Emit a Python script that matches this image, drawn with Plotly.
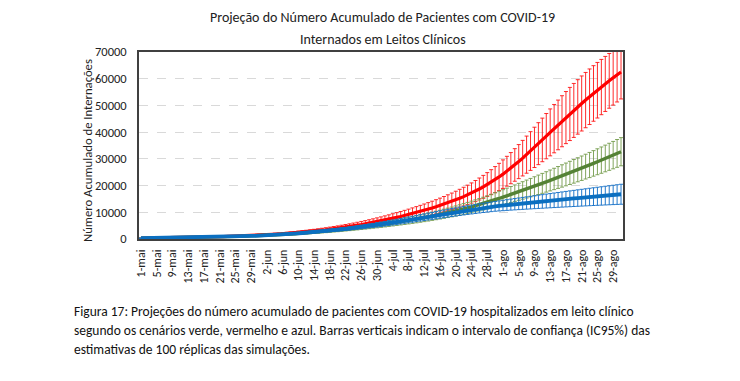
import plotly.graph_objects as go

# ---------------- data ----------------
months = ["mai", "jun", "jul", "ago"]
month_days = [31, 30, 31, 31]
days = [f"{d}-{m}" for m, n in zip(months, month_days) for d in range(1, n + 1)]

tick_labels = ["1-mai", "5-mai", "9-mai", "13-mai", "17-mai", "21-mai", "25-mai", "29-mai",
               "2-jun", "6-jun", "10-jun", "14-jun", "18-jun", "22-jun", "26-jun", "30-jun",
               "4-jul", "8-jul", "12-jul", "16-jul", "20-jul", "24-jul", "28-jul",
               "1-ago", "5-ago", "9-ago", "13-ago", "17-ago", "21-ago", "25-ago", "29-ago"]

red_mean = [300, 315, 330, 350, 370, 390, 410, 430, 455, 480,
            505, 530, 560, 590, 620, 655, 690, 730, 770, 810,
            855, 900, 950, 1000, 1055, 1110, 1170, 1235, 1300, 1370,
            1445, 1520, 1600, 1685, 1775, 1870, 1970, 2075, 2185, 2300,
            2420, 2550, 2685, 2825, 2975, 3130, 3295, 3465, 3645, 3830,
            4025, 4230, 4440, 4660, 4890, 5130, 5380, 5640, 5910, 6190,
            6480, 6780, 7090, 7410, 7740, 8080, 8430, 8790, 9160, 9540,
            9930, 10330, 10740, 11160, 11600, 12060, 12540, 13040, 13560, 14100,
            14660, 15250, 15870, 16520, 17210, 17940, 18710, 19520, 20370, 21270,
            22220, 23220, 24270, 25370, 26520, 27720, 28970, 30260, 31580, 32930,
            34300, 35690, 37090, 38500, 39910, 41310, 42700, 44080, 45450, 46800,
            48130, 49440, 50730, 52000, 53250, 54480, 55690, 56880, 58050, 59200,
            60330, 61440, 62530]
red_err = [66, 69, 73, 77, 81, 86, 90, 95, 100, 106,
           111, 117, 123, 130, 136, 144, 152, 161, 169, 178,
           188, 198, 209, 220, 232, 244, 257, 272, 286, 301,
           318, 334, 352, 371, 391, 411, 433, 457, 481, 506,
           532, 561, 591, 622, 655, 689, 725, 762, 802, 843,
           886, 931, 977, 1025, 1076, 1129, 1184, 1241, 1300, 1362,
           1426, 1492, 1560, 1630, 1703, 1778, 1855, 1934, 2015, 2099,
           2185, 2273, 2363, 2455, 2552, 2653, 2759, 2869, 2983, 3102,
           3225, 3355, 3491, 3634, 3786, 3947, 4116, 4294, 4481, 4679,
           4888, 5108, 5339, 5581, 5834, 6098, 6373, 6657, 6948, 7245,
           7546, 7852, 8160, 8470, 8780, 9050, 9300, 9550, 9750, 9950,
           10100, 10200, 10300, 10350, 10400, 10400, 10400, 10350, 10300, 10250,
           10200, 10150, 10100]

green_mean = [300, 314, 328, 343, 358, 374, 391, 408, 426, 445,
              465, 493, 522, 551, 581, 612, 643, 675, 708, 740,
              770, 810, 850, 890, 932, 976, 1021, 1068, 1115, 1162,
              1210, 1275, 1345, 1418, 1495, 1578, 1665, 1757, 1855, 1955,
              2060, 2165, 2275, 2390, 2510, 2635, 2765, 2900, 3040, 3185,
              3335, 3490, 3650, 3815, 3985, 4160, 4340, 4525, 4715, 4910,
              5110, 5315, 5525, 5740, 5960, 6185, 6415, 6650, 6890, 7135,
              7385, 7650, 7925, 8210, 8505, 8810, 9125, 9450, 9785, 10130,
              10485, 10850, 11225, 11610, 12005, 12410, 12825, 13250, 13720, 14195,
              14675, 15160, 15650, 16145, 16645, 17150, 17660, 18175, 18695, 19220,
              19750, 20285, 20825, 21370, 21920, 22475, 23035, 23600, 24170, 24745,
              25325, 25910, 26500, 27095, 27695, 28300, 28910, 29525, 30145, 30770,
              31400, 32035, 32675]
green_err = [54, 57, 59, 62, 64, 67, 70, 73, 77, 80,
             84, 89, 94, 99, 105, 110, 116, 122, 127, 133,
             139, 146, 153, 160, 168, 176, 184, 192, 201, 209,
             218, 230, 242, 255, 269, 284, 300, 316, 334, 352,
             371, 390, 410, 430, 452, 474, 498, 522, 547, 573,
             600, 628, 657, 687, 717, 749, 781, 815, 849, 884,
             920, 957, 995, 1033, 1073, 1113, 1155, 1197, 1240, 1284,
             1329, 1377, 1427, 1478, 1531, 1586, 1643, 1701, 1761, 1823,
             1887, 1953, 2021, 2090, 2161, 2234, 2309, 2385, 2470, 2555,
             2640, 2730, 2815, 2905, 2995, 3085, 3180, 3270, 3365, 3460,
             3550, 3640, 3730, 3820, 3910, 4000, 4090, 4180, 4260, 4340,
             4420, 4500, 4570, 4640, 4710, 4780, 4850, 4920, 4990, 5060,
             5130, 5200, 5270]

blue_mean = [300, 317, 334, 351, 369, 387, 405, 423, 442, 461,
             480, 510, 540, 570, 600, 632, 664, 697, 730, 765,
             800, 840, 880, 922, 965, 1010, 1057, 1105, 1154, 1205,
             1260, 1325, 1395, 1470, 1550, 1635, 1725, 1820, 1920, 2025,
             2135, 2245, 2360, 2480, 2605, 2735, 2870, 3010, 3155, 3305,
             3460, 3620, 3785, 3955, 4130, 4310, 4495, 4685, 4880, 5080,
             5285, 5505, 5730, 5960, 6195, 6435, 6677, 6921, 7167, 7415,
             7665, 7915, 8163, 8409, 8659, 8909, 9158, 9406, 9652, 9895,
             10135, 10370, 10599, 10821, 11035, 11255, 11465, 11665, 11856, 12039,
             12215, 12385, 12550, 12711, 12869, 13024, 13177, 13328, 13477, 13625,
             13772, 13918, 14063, 14207, 14350, 14492, 14633, 14773, 14912, 15050,
             15187, 15323, 15458, 15592, 15725, 15857, 15988, 16118, 16247, 16375,
             16502, 16628, 16753]
blue_err = [45, 48, 50, 52, 55, 58, 61, 64, 66, 69,
            72, 77, 81, 86, 90, 95, 100, 105, 110, 115,
            120, 126, 132, 138, 145, 152, 159, 166, 173, 181,
            189, 199, 209, 221, 233, 245, 259, 273, 288, 304,
            320, 337, 354, 372, 391, 410, 431, 452, 473, 496,
            519, 543, 568, 593, 620, 647, 674, 703, 732, 762,
            793, 826, 860, 894, 929, 965, 1002, 1038, 1075, 1112,
            1150, 1187, 1224, 1261, 1299, 1336, 1374, 1411, 1448, 1484,
            1520, 1556, 1590, 1623, 1655, 1686, 1715, 1743, 1769, 1795,
            1820, 1880, 1940, 2000, 2060, 2120, 2180, 2240, 2300, 2360,
            2420, 2480, 2540, 2600, 2660, 2720, 2780, 2840, 2900, 2960,
            3020, 3080, 3140, 3200, 3260, 3320, 3380, 3440, 3500, 3560,
            3620, 3680, 3740]

y_ticks = [0, 10000, 20000, 30000, 40000, 50000, 60000, 70000]

title_lines = ["Projeção do Número Acumulado de Pacientes com COVID-19",
               "Internados em Leitos Clínicos"]
y_title = "Número Acumulado de Internações"
caption_lines = [
    "Figura 17: Projeções do número acumulado de pacientes com COVID-19 hospitalizados em leito clínico",
    "segundo os cenários verde, vermelho e azul. Barras verticais indicam o intervalo de confiança (IC95%) das",
    "estimativas de 100 réplicas das simulações.",
]

# ---------------- figure ----------------
FONT = "Carlito, Lato, sans-serif"
W, H = 740, 381
L, R, T, B = 139, 623, 52, 239  # plot area in px


def px_x(px):
    return (px - L) / (R - L)


def px_y(py):
    return (B - py) / (B - T)


series = [
    (red_mean, red_err, "#ff0000", "rgba(255,20,20,0.9)", 3.2),
    (green_mean, green_err, "#548235", "rgba(115,155,75,0.9)", 3.4),
    (blue_mean, blue_err, "#0b6fc0", "rgba(25,115,200,0.95)", 3.8),
]

fig = go.Figure()
for mean, err, lc, ec, lw in series:
    fig.add_trace(go.Scatter(
        x=days, y=mean, mode="lines",
        line=dict(color=lc, width=lw),
        error_y=dict(type="data", array=err, symmetric=True,
                     color=ec, thickness=1, width=2),
        showlegend=False, hoverinfo="skip",
    ))

fig.update_layout(
    width=W, height=H,
    margin=dict(l=L, r=W - R, t=T, b=H - B, pad=0),
    paper_bgcolor="white", plot_bgcolor="white",
    font=dict(family=FONT, color="#222222", size=11),
    showlegend=False,
)
fig.update_xaxes(
    type="category", categoryorder="array", categoryarray=days,
    range=[-0.5, len(days) - 0.5],
    tickmode="array", tickvals=tick_labels, ticktext=tick_labels,
    tickangle=-90, tickfont=dict(size=12, family=FONT, color="#222222"),
    showgrid=False, showline=True, mirror=True,
    linecolor="#404040", linewidth=1.6, ticks="", ticklabelstandoff=4,
)
fig.update_yaxes(
    range=[0, 70000], tickmode="array", tickvals=y_ticks,
    ticktext=[str(v) for v in y_ticks],
    tickfont=dict(size=12.5, family=FONT, color="#222222"),
    showgrid=True, gridcolor="#d9d9d9", griddash="dash", gridwidth=1,
    zeroline=False, showline=True, mirror=True,
    linecolor="#404040", linewidth=1.6, ticks="", ticklabelstandoff=8,
)

ann = []
for text, py in zip(title_lines, [18, 40]):
    ann.append(dict(text=text, x=px_x(382.5), y=px_y(py), xref="paper", yref="paper",
                    xanchor="center", yanchor="middle", showarrow=False,
                    font=dict(size=14, family=FONT, color="#222222")))
ann.append(dict(text=y_title, x=px_x(87), y=px_y(151), xref="paper", yref="paper",
                xanchor="center", yanchor="middle", textangle=-90, showarrow=False,
                font=dict(size=12.7, family=FONT, color="#222222")))
for text, py in zip(caption_lines, [311, 330, 349]):
    ann.append(dict(text=text, x=px_x(72), y=px_y(py), xref="paper", yref="paper",
                    xanchor="left", yanchor="middle", showarrow=False, align="left",
                    font=dict(size=13.5, family=FONT, color="#111111")))
fig.update_layout(annotations=ann)

fig.write_html("out.html", config={"displayModeBar": False},
               post_script="document.body.style.margin='0';document.body.style.padding='0';")
